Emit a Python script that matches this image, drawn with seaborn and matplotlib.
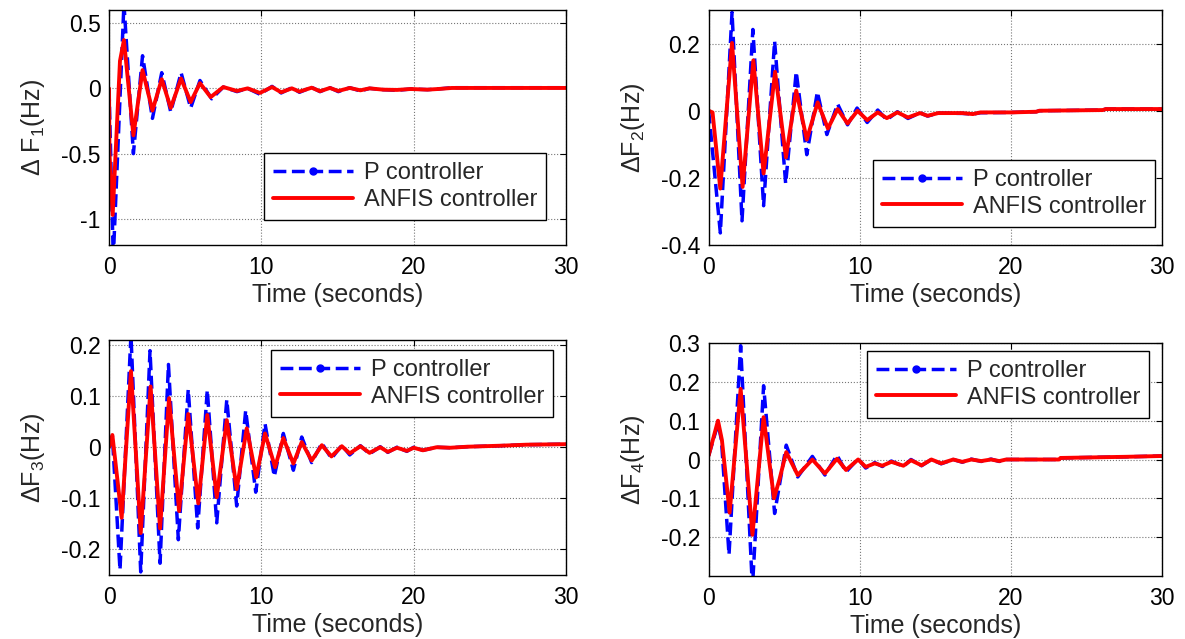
import matplotlib
matplotlib.use("Agg")
import matplotlib.pyplot as plt
import seaborn as sns
from matplotlib.lines import Line2D

# ---- data (time in seconds, deviation in Hz) ----
# Area 1
t_p1 = [0, 0.28, 0.98, 1.6, 2.2, 2.85, 3.46, 4.05, 4.73, 5.36, 5.97, 6.74, 7.5, 8.4, 9.1,
        9.9, 10.7, 11.3, 12.0, 12.5, 13.3, 13.85, 14.5, 15.05, 15.8, 16.5, 17.1, 18.0,
        18.9, 19.8, 20.9, 21.6, 22.5, 30]
v_p1 = [0, -1.3, 0.65, -0.5, 0.25, -0.23, 0.12, -0.18, 0.12, -0.15, 0.06, -0.08, 0.01,
        -0.025, 0.0, -0.045, 0.015, -0.035, 0.005, -0.03, 0.008, -0.025, 0.005, -0.025,
        0.005, -0.02, 0.0, -0.01, -0.015, -0.005, -0.01, -0.005, 0.005, 0.005]
t_a1 = [0, 0.03, 0.24, 0.72, 0.98, 1.6, 2.2, 2.85, 3.46, 4.05, 4.73, 5.36, 5.97, 6.67, 7.5,
        8.4, 9.1, 9.9, 10.7, 11.3, 12.0, 12.5, 13.3, 13.85, 14.5, 15.05, 15.8, 16.5, 17.1,
        18.0, 18.9, 19.8, 20.9, 21.6, 22.5, 30]
v_a1 = [0, -0.5, -0.97, 0.21, 0.37, -0.36, 0.14, -0.17, 0.07, -0.15, 0.075, -0.105, 0.04,
        -0.067, 0.01, -0.02, 0.0, -0.035, 0.01, -0.03, 0.0, -0.025, 0.005, -0.022, 0.003,
        -0.02, 0.003, -0.015, 0.0, -0.01, -0.012, -0.005, -0.01, -0.005, 0.003, 0.003]

# Area 2
t_p2 = [0, 0.775, 1.55, 2.21, 2.93, 3.64, 4.37, 5.1, 5.8, 6.5, 7.2, 7.83, 8.54, 9.2, 9.83,
        10.5, 11.2, 11.8, 12.5, 13.2, 14.0, 14.5, 15.2, 16.8, 17.5, 18.0, 20.1, 21.7, 21.9,
        26.1, 26.3, 30]
v_p2 = [0, -0.364, 0.293, -0.328, 0.242, -0.283, 0.207, -0.217, 0.116, -0.131, 0.056,
        -0.071, 0.02, -0.042, 0.008, -0.035, 0.002, -0.027, -0.003, -0.023, -0.006, -0.016,
        -0.007, -0.008, -0.01, -0.006, -0.005, -0.003, 0.0, 0.002, 0.005, 0.005]
t_a2 = [0, 0.26, 0.77, 1.55, 2.25, 2.96, 3.64, 4.4, 5.12, 5.8, 6.5, 7.22, 7.9, 8.54, 9.2,
        9.86, 10.5, 11.2, 11.8, 12.5, 13.2, 14.0, 14.5, 15.2, 16.8, 17.5, 18.0, 20.1, 21.7,
        21.9, 26.1, 26.3, 30]
v_a2 = [0, -0.005, -0.232, 0.202, -0.227, 0.15, -0.187, 0.116, -0.139, 0.06, -0.086, 0.025,
        -0.053, 0.005, -0.038, 0.0, -0.028, -0.005, -0.022, -0.005, -0.02, -0.007, -0.015,
        -0.007, -0.007, -0.01, -0.005, -0.005, -0.003, 0.0, 0.002, 0.005, 0.005]

# Area 3
t_p3 = [0, 0.22, 0.72, 1.44, 2.08, 2.69, 3.35, 3.9, 4.55, 5.2, 5.82, 6.45, 7.07, 7.73, 8.38,
        8.97, 9.63, 10.24, 10.85, 11.44, 12.1, 12.65, 13.3, 13.97, 14.6, 15.28, 15.8, 16.5,
        17.1, 17.8, 18.3, 18.9, 19.55, 20.0, 20.6, 21.5, 22.4, 23.5, 24.6, 25.7, 27.4, 30]
v_p3 = [0, 0.022, -0.24, 0.22, -0.244, 0.189, -0.227, 0.162, -0.181, 0.113, -0.158, 0.112,
        -0.148, 0.093, -0.115, 0.072, -0.088, 0.046, -0.057, 0.027, -0.045, 0.02, -0.03,
        0.008, -0.022, 0.004, -0.015, 0.003, -0.013, 0.001, -0.01, 0.0, -0.008, 0.0, -0.006,
        0.0, -0.001, 0.001, 0.002, 0.003, 0.005, 0.006]
t_a3 = [0, 0.22, 0.83, 1.44, 2.08, 2.73, 3.35, 3.94, 4.6, 5.2, 5.86, 6.45, 7.07, 7.73, 8.38,
        9.04, 9.66, 10.24, 10.9, 11.44, 12.1, 12.65, 13.3, 13.97, 14.6, 15.28, 15.8, 16.5,
        17.1, 17.8, 18.3, 18.9, 19.55, 20.0, 20.6, 21.5, 22.4, 23.5, 24.6, 25.7, 27.4, 30]
v_a3 = [0, 0.024, -0.138, 0.149, -0.168, 0.119, -0.159, 0.096, -0.125, 0.065, -0.11, 0.063,
        -0.098, 0.053, -0.082, 0.037, -0.059, 0.027, -0.039, 0.018, -0.032, 0.01, -0.026,
        0.004, -0.018, 0.002, -0.012, 0.002, -0.011, 0.0, -0.009, -0.001, -0.007, -0.001,
        -0.006, 0.0, -0.001, 0.001, 0.002, 0.003, 0.005, 0.006]

# Area 4
t_p4 = [0, 0.62, 0.85, 1.35, 2.12, 2.9, 3.64, 4.37, 5.14, 5.9, 6.87, 7.7, 8.5, 9.1, 9.9,
        10.4, 11.0, 11.5, 12.1, 12.9, 13.4, 14.1, 14.75, 15.4, 16.2, 16.8, 17.4, 18.05,
        18.7, 19.25, 19.7, 23.2, 23.3, 27.7, 30]
v_p4 = [0.01, 0.092, 0.05, -0.245, 0.293, -0.33, 0.19, -0.139, 0.037, -0.045, 0.008, -0.04,
        0.011, -0.032, 0.002, -0.022, -0.008, -0.018, -0.004, -0.018, 0.0, -0.016, 0.0,
        -0.011, 0.0, -0.007, 0.001, -0.005, 0.001, -0.005, 0.0, 0.0, 0.004, 0.007, 0.009]
t_a4 = [0, 0.62, 0.88, 1.39, 2.12, 2.9, 3.64, 4.33, 4.7, 5.14, 5.9, 6.87, 7.7, 8.5, 9.1,
        9.9, 10.4, 11.0, 11.5, 12.1, 12.9, 13.4, 14.1, 14.75, 15.4, 16.2, 16.8, 17.4,
        18.05, 18.7, 19.25, 19.7, 23.2, 23.3, 27.7, 30]
v_a4 = [0.01, 0.1, 0.05, -0.137, 0.182, -0.194, 0.109, -0.1, -0.05, 0.019, -0.04, 0.0,
        -0.036, 0.002, -0.027, 0.0, -0.019, -0.01, -0.016, -0.006, -0.016, -0.002, -0.015,
        0.0, -0.01, 0.0, -0.006, 0.0, -0.004, 0.0, -0.004, 0.0, 0.0, 0.004, 0.007, 0.009]

x_ticks = [0, 10, 20, 30]
y_ticks1 = [-1, -0.5, 0, 0.5]
y_labels1 = ["-1", "-0.5", "0", "0.5"]
y_ticks2 = [-0.4, -0.2, 0, 0.2]
y_labels2 = ["-0.4", "-0.2", "0", "0.2"]
y_ticks3 = [-0.2, -0.1, 0, 0.1, 0.2]
y_labels3 = ["-0.2", "-0.1", "0", "0.1", "0.2"]
y_ticks4 = [-0.2, -0.1, 0, 0.1, 0.2, 0.3]
y_labels4 = ["-0.2", "-0.1", "0", "0.1", "0.2", "0.3"]

series_names = ["P controller", "ANFIS controller"]

sns.set_style("white")
plt.rcParams["font.family"] = ["Liberation Sans", "DejaVu Sans"]
plt.rcParams["mathtext.default"] = "regular"
plt.rcParams["font.size"] = 16


def draw_panel(ax, t_p, v_p, t_a, v_a, ylim, yticks, ylabels, ylabel, anchor):
    sns.lineplot(x=t_p, y=v_p, ax=ax, color="#0000ff", linestyle="--", linewidth=2.5,
                 estimator=None, sort=False)
    sns.lineplot(x=t_a, y=v_a, ax=ax, color="#ff0000", linewidth=2.8,
                 estimator=None, sort=False)
    ax.set_xlim(0, 30)
    ax.set_ylim(*ylim)
    ax.set_xticks(x_ticks, labels=[str(x) for x in x_ticks])
    ax.set_yticks(yticks, labels=ylabels)
    ax.grid(True, linestyle=":", color="#777777", linewidth=0.8)
    ax.tick_params(direction="in", length=4, width=0.8, top=True, right=True,
                   labelsize=16.5, colors="black", pad=6)
    ax.tick_params(axis="x", pad=8)
    for sp in ax.spines.values():
        sp.set_visible(True)
        sp.set_color("black")
        sp.set_linewidth(1.0)
    ax.set_xlabel("Time (seconds)", fontsize=18, labelpad=3)
    ax.set_ylabel(ylabel, fontsize=18, labelpad=10)

    handles = [
        Line2D([], [], color="#0000ff", linestyle="--", linewidth=2.5, marker=".",
               markersize=10),
        Line2D([], [], color="#ff0000", linewidth=2.8),
    ]
    leg = ax.legend(handles, series_names, loc="upper right", bbox_to_anchor=anchor,
                    borderaxespad=0, fancybox=False, framealpha=1, edgecolor="black",
                    fontsize=17, handlelength=3.4, handletextpad=0.45, borderpad=0.38,
                    labelspacing=0.2)
    leg.get_frame().set_linewidth(1.0)


fig = plt.figure(figsize=(11.85, 6.39), dpi=100)
ax1 = fig.add_axes([0.092, 0.6166, 0.3857, 0.3677])
ax2 = fig.add_axes([0.598, 0.6166, 0.3823, 0.3677])
ax3 = fig.add_axes([0.092, 0.1002, 0.3857, 0.3678])
ax4 = fig.add_axes([0.598, 0.0986, 0.3823, 0.3646])

draw_panel(ax1, t_p1, v_p1, t_a1, v_a1, (-1.2, 0.6), y_ticks1, y_labels1,
           "Δ F$_1$(Hz)", (0.956, 0.391))
draw_panel(ax2, t_p2, v_p2, t_a2, v_a2, (-0.4, 0.3), y_ticks2, y_labels2,
           "ΔF$_2$(Hz)", (0.985, 0.362))
draw_panel(ax3, t_p3, v_p3, t_a3, v_a3, (-0.25, 0.21), y_ticks3, y_labels3,
           "ΔF$_3$(Hz)", (0.972, 0.957))
draw_panel(ax4, t_p4, v_p4, t_a4, v_a4, (-0.3, 0.3), y_ticks4, y_labels4,
           "ΔF$_4$(Hz)", (0.973, 0.966))

fig.savefig("out.png", dpi=100)
plt.close(fig)
